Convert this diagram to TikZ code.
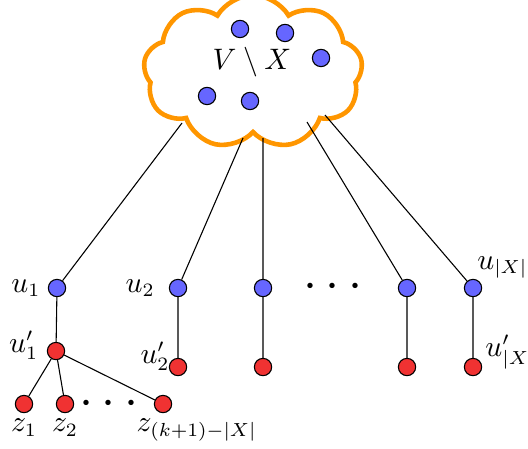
\documentclass[tikz,border=0pt]{standalone}
\usepackage{amsmath,amssymb}
\usepackage{xcolor}
\usetikzlibrary{shapes.symbols,positioning}
\definecolor{vblue}{RGB}{102,102,255}
\definecolor{vred}{RGB}{240,50,50}
\definecolor{vorange}{RGB}{255,150,0}

\begin{document}
\begin{tikzpicture}[x=0.013cm,y=-0.013cm,
font=\fontsize{10.7}{13}\selectfont,
bdot/.style={circle,draw=black,fill=vblue,inner sep=0pt,minimum size=0.225cm},
rdot/.style={circle,draw=black,fill=vred,inner sep=0pt,minimum size=0.225cm},
lbl/.style={inner sep=1pt}]
\useasboundingbox (0,0) rectangle (528,448);
% the set V minus X
\node[cloud,cloud puffs=9,cloud puff arc=120,aspect=1.5,shape border rotate=30,
draw=vorange,line width=1.7pt,minimum width=2.85cm,minimum height=2cm] (cloud) at (253,72) {};
\node (vx) at (252,62) {$V\setminus X$};
\node[bdot] (v1) at (240,29) {};
\node[bdot] (v2) at (285,33) {};
\node[bdot] (v3) at (321,58) {};
\node[bdot] (v4) at (207,96) {};
\node[bdot] (v5) at (250,101) {};
% where the edges leave the cloud
\coordinate (c1) at (182,123);
\coordinate (c2) at (243,138);
\coordinate (c3) at (263,138);
\coordinate (c4) at (307,122);
\coordinate (c5) at (325,115);
% the vertices u and u'
\node[bdot] (u1) at (57,288) {};
\node[bdot] (u2) at (178,288) {};
\node[bdot] (u3) at (263,288) {};
\node[bdot] (u4) at (407,288) {};
\node[bdot] (u5) at (473,288) {};
\node[rdot] (u1p) at (56,351) {};
\node[rdot] (u2p) at (178,367) {};
\node[rdot] (u3p) at (263,367) {};
\node[rdot] (u4p) at (407,367) {};
\node[rdot] (u5p) at (473,367) {};
\node[rdot] (z1) at (24,404) {};
\node[rdot] (z2) at (65,404) {};
\node[rdot] (z3) at (163,404) {};
\node[scale=1.7] (dots1) at (337,287) {$\cdots$};
\node[scale=1.7] (dots2) at (113,404) {$\cdots$};
% labels
\node[lbl,left=1.5pt of u1] (lu1) {$u_1$};
\node[lbl,left=2pt of u1p,yshift=2pt] (lu1p) {$u_1'$};
\node[lbl,left=4pt of u2] (lu2) {$u_2$};
\node[lbl,left=-1.5pt of u2p,yshift=4pt] (lu2p) {$u_2'$};
\node[lbl,above right=0pt and -2pt of u5] (lu5) {$u_{|X|}$};
\node[lbl,right=0pt of u5p,yshift=5.5pt] (lu5p) {$u'_{|X}$};
\node[lbl,below=1pt of z1] (lz1) {$z_1$};
\node[lbl,below=1pt of z2] (lz2) {$z_2$};
\node[lbl,below=1pt of z3,xshift=12.5pt] (lz3) {$z_{(k+1)-|X|}$};
% edges
\draw (c1)--(u1) (c2)--(u2) (c3)--(u3) (c4)--(u4) (c5)--(u5);
\draw (u1)--(u1p) (u2)--(u2p) (u3)--(u3p) (u4)--(u4p) (u5)--(u5p);
\draw (u1p)--(z1) (u1p)--(z2) (u1p)--(z3);
\end{tikzpicture}
\end{document}
